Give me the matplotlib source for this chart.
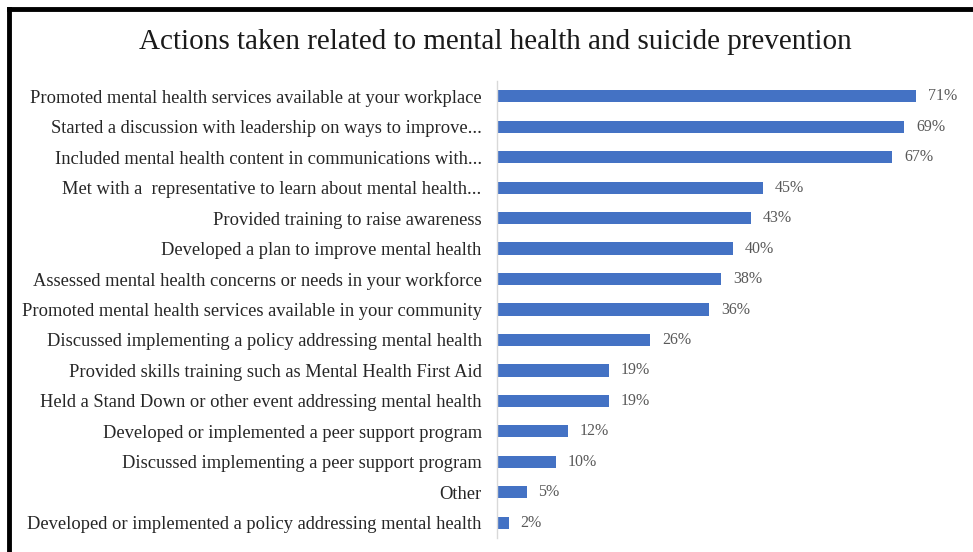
import matplotlib
matplotlib.use("Agg")
import matplotlib.pyplot as plt
from matplotlib.lines import Line2D

actions = [
    "Promoted mental health services available at your workplace",
    "Started a discussion with leadership on ways to improve...",
    "Included mental health content in communications with...",
    "Met with a  representative to learn about mental health...",
    "Provided training to raise awareness",
    "Developed a plan to improve mental health",
    "Assessed mental health concerns or needs in your workforce",
    "Promoted mental health services available in your community",
    "Discussed implementing a policy addressing mental health",
    "Provided skills training such as Mental Health First Aid",
    "Held a Stand Down or other event addressing mental health",
    "Developed or implemented a peer support program",
    "Discussed implementing a peer support program",
    "Other",
    "Developed or implemented a policy addressing mental health",
]
percents = [71, 69, 67, 45, 43, 40, 38, 36, 26, 19, 19, 12, 10, 5, 2]

W, H = 973, 552
fig = plt.figure(figsize=(W / 100, H / 100), dpi=100)
ax = fig.add_axes([497 / W, 1 - 538 / H, (960 - 497) / W, (538 - 81) / H])

pos = list(range(len(actions)))
ax.barh(pos, percents, height=0.4, color="#4472C4")
ax.set_ylim(len(actions) - 0.5, -0.5)
ax.set_xlim(0, (960 - 497) / 5.9)

for y, v in zip(pos, percents):
    ax.text(v + 2.0, y, f"{v}%", va="center", ha="left",
            fontsize=11.5, family="Liberation Serif", color="#595959")

ax.set_yticks(pos)
ax.set_yticklabels(actions, fontsize=13.3, family="Liberation Serif", color="#262626")
ax.tick_params(axis="y", length=0, pad=11)
ax.set_xticks([])
for s in ["top", "right", "bottom"]:
    ax.spines[s].set_visible(False)
ax.spines["left"].set_color("#d9d9d9")
ax.spines["left"].set_linewidth(1)

fig.text(495 / W, 1 - 42 / H, "Actions taken related to mental health and suicide prevention",
         ha="center", va="center", fontsize=21, family="Liberation Serif", color="#1a1a1a")

# frame lines (top and left)
fig.add_artist(Line2D([9 / W, 972 / W], [1 - 9 / H, 1 - 9 / H], color="black", lw=3.5,
                      transform=fig.transFigure))
fig.add_artist(Line2D([9 / W, 9 / W], [1 - 9 / H, 0], color="black", lw=3.5,
                      transform=fig.transFigure))

fig.savefig("out.png", dpi=100)
